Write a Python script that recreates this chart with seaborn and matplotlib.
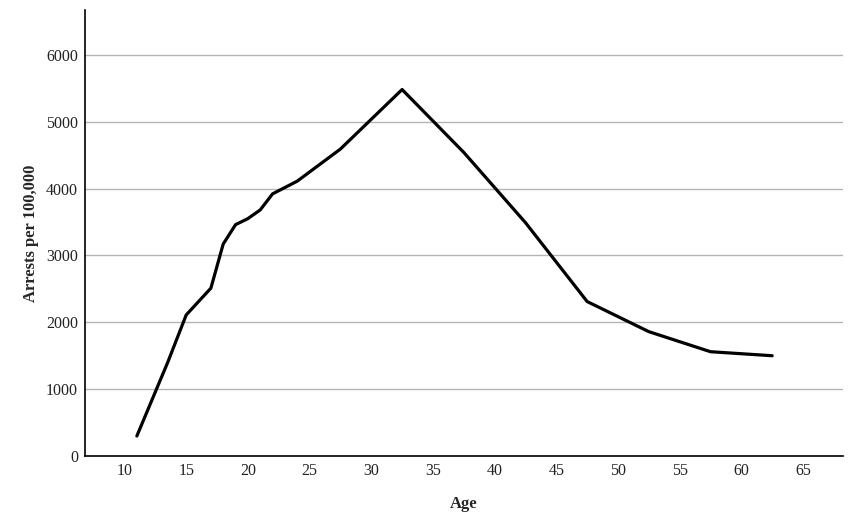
import numpy as np
import matplotlib.pyplot as plt
import seaborn as sns
import pandas as pd

ages = [11, 13.5, 15, 17, 18, 19, 20, 21, 22, 24, 27.5, 32.5, 37.5, 42.5, 47.5, 52.5, 57.5, 62.5]
arrests = [300, 1400, 2110, 2510, 3170, 3460, 3550, 3680, 3920, 4110, 4590, 5480,
           4540, 3490, 2310, 1860, 1560, 1500]
xticks = [10, 15, 20, 25, 30, 35, 40, 45, 50, 55, 60, 65]
yticks = [0, 1000, 2000, 3000, 4000, 5000, 6000]

df = pd.DataFrame({"Age": ages, "Arrests": arrests})

sns.set_style("white")
plt.rcParams['font.family'] = ['Liberation Serif', 'DejaVu Serif']

fig = plt.figure(figsize=(8.53, 5.23), dpi=100)
ax = fig.add_axes([0.0997, 0.128, 0.888, 0.853])

sns.lineplot(data=df, x="Age", y="Arrests", ax=ax, color="black", linewidth=2.3)

ax.set_xlim(6.8, 68.2)
ax.set_ylim(0, 6670)
ax.set_xticks(xticks)
ax.set_yticks(yticks)
ax.tick_params(axis='both', length=0, labelsize=11.5, pad=5, labelcolor="#222222")
ax.yaxis.grid(True, color="#b4b4b4", linewidth=1)
ax.set_axisbelow(True)
for s in ["top", "right"]:
    ax.spines[s].set_visible(False)
for s in ["left", "bottom"]:
    ax.spines[s].set_color("black")
    ax.spines[s].set_linewidth(1.2)

ax.set_xlabel("Age", fontsize=12, fontweight="bold", labelpad=12)
ax.set_ylabel("Arrests per 100,000", fontsize=12, fontweight="bold", labelpad=5)

plt.savefig("out.png", dpi=100)
